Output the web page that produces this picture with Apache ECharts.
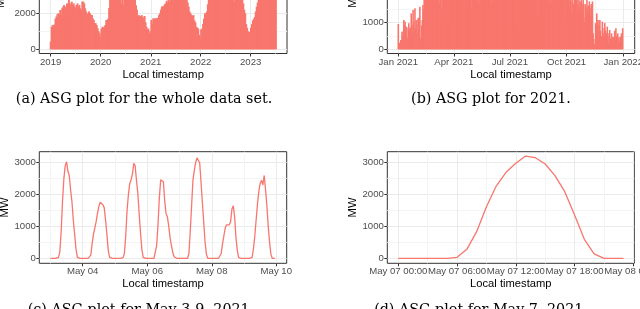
<!DOCTYPE html>
<html><head><meta charset="utf-8">
<script src="https://cdn.jsdelivr.net/npm/echarts@6/dist/echarts.min.js"></script>
<style>html,body{margin:0;padding:0;background:#fff}#c{width:640px;height:309px}</style>
</head><body><div id="c"></div>
<script>
const DAY = 864e5, HOUR = 36e5;

// (a) ASG, whole data set: weekly maxima, first week starts 2019-01-01
const aStart = '2019-01-01';
const aWeeklyMW = [
 425,1250,1350,1300,1380,1700,1820,1950,2000,1950,
 2185,1900,2280,2370,2460,2185,2370,2550,2460,2800,
 2550,2370,2650,2460,2550,2370,2280,2460,2550,2370,
 2460,2280,2185,2650,2650,2550,2280,2100,1910,2000,
 2100,2000,1910,1910,1720,1630,1450,1450,1350,1170,
 1000,890,
 700,1150,1250,1200,1260,1350,1630,1630,1700,2300,
 2850,3000,3100,2950,3150,3200,3050,3300,3250,3150,
 3350,3200,2550,3300,2450,3250,3400,3200,3300,3100,
 3250,3000,3150,2950,3050,2900,2800,
 2450,2200,1850,1900,1800,1850,1900,1800,1700,1850,
 1500,1250,1100,1150,900,1000,1630,1400,1720,1700,
 1720,1650,1750,1720,1900,2000,2200,2370,2400,2370,
 2500,
 2550,2700,2600,2800,2650,2900,
 3000,3100,3200,3050,3300,3150,3250,3400,3200,3300,3350,3150,3250,3100,3200,3000,2900,
 2600,2370,2100,2000,1900,1850,1900,1600,1500,1250,1200,1150,800,600,1100,1150,1400,1700,2000,1950,2100,2500,
 2850,3000,3100,3200,3050,3300,3250,3400,3350,3200,3500,3300,3450,3600,3400,3550,3300,3450,
 3500,3350,3400,3250,3300,3150,3200,3050,3100,2650,3000,2950,2900,3000,2850,2800,2900,2750,
 2550,2200,2000,1400,1200,1000,900,980,1200,1400,1600,1700,1800,2100,2370,2600,
 2900,3100,3000,3250,3200,3400,3350,3500,3300,3600,3450,3700,3500,3650,3550,3800,3600,3700,3750
];

// (b) ASG for 2021: daily maxima from 2021-01-01
const bStart = '2021-01-01';
const bDailyMW = [
 950,200,250,180,350,300,660,500,680,1100,
 900,1040,660,850,820,400,460,980,700,790,
 820,1350,900,600,1480,1000,724,1540,790,1100,
 950,600,1165,1150,1200,1600,412,160,900,1100,
 1665,1500,1900,2100,
 2200,2350,2100,2450,2300,2500,2250,2400,2600,2350,
 2500,2700,2450,2600,2300,2550,2750,2500,2650,2400,
 2700,2600,2800,1700,2650,2900,1550,2750,2850,2600,
 2900,2700,2950,2800,3000,2850,2700,950,2900,3050,
 2950,3100,2800,3000,2900,3150,3050,2850,3100,3000,
 3200,1700,3050,3150,2950,3100,3250,3000,3150,1800,
 3200,3050,3300,3100,3150,3250,2950,3200,3300,1250,
 3150,3250,3100,3300,3200,1600,3050,3250,3350,3150,
 3200,3300,3100,3250,3350,3150,1750,3200,3300,3100,
 3250,3350,3200,3050,3300,3150,3250,3350,3100,3200,
 3300,3150,3250,3050,3350,3200,3100,1650,3250,3300,
 3150,3200,3350,3100,3250,3300,3050,3200,1150,3250,
 3300,3150,3200,3350,3100,3250,3050,3300,3200,1700,
 3150,3250,3300,3100,1750,3200,3350,3050,3250,3150,
 3300,3200,3100,3250,3050,3300,3150,3200,3000,3250,
 800,3100,3200,3050,3250,3150,3000,3200,3100,3050,
 3150,2950,3200,3100,3000,3150,2900,3100,3050,2950,
 3100,3000,2850,3050,2950,3100,2900,3000,2850,3050,
 2950,2800,3000,1300,2900,2850,2950,2750,2900,1750,
 2850,2700,2900,2800,1800,2750,2850,2650,2800,2700,
 2600,2750,2650,1750,2700,2550,2650,2500,2700,2600,
 2450,2650,2550,2400,2600,2350,2500,2450,1700,2300,
 2450,2250,2400,2200,2350,2150,1000,2300,2100,2250,
 2000,
 1500,1900,2000,1600,2100,1800,1350,1900,2000,1700,
 1450,2000,1900,1600,1850,2000,1400,1700,1900,1550,
 1800,1300,1950,1700,1500,1850,1200,1000,1700,1600,
 1300,1850,1500,1650,1350,1800,1550,1250,1700,1450,
 1800,600,400,170,200,985,800,1350,900,1100,
 660,900,1100,700,350,500,1040,600,475,800,
 985,700,350,600,850,500,225,600,725,400,
 350,600,290,450,475,300,700,400,790,500,
 350,600,300,450,290,475,350,600,500,790
];

// (c) ASG hourly, May 3-9, 2021
const cStart = '2021-05-03';
const cMay03 = [0,0,0,0,0,0,30,200,850,1800,2500,2900,3030,2730,2600,2150,1780,1200,750,300,30,0,0,0];
const cMay04 = [0,0,0,0,0,0,100,450,750,950,1150,1410,1620,1760,1790,1680,1590,1200,750,250,30,0,0,0];
const cMay05 = [0,0,0,0,0,0,20,150,700,1500,2000,2350,2460,2650,2980,2900,2450,2040,1400,800,280,30,0,0];
const cMay06 = [0,0,0,0,0,0,50,400,1050,1900,2460,2510,2400,1800,1400,1300,1000,640,400,180,50,0,0,0];
const cMay07 = [0,0,0,0,0,0,0,150,850,1650,2450,2750,3000,3150,3200,3000,2400,1750,1150,520,130,0,0,0];
const cMay08 = [0,0,0,0,0,0,0,150,450,700,950,1050,1080,1050,1150,1550,1650,1300,650,250,20,0,0,0];
const cMay09 = [0,0,0,0,0,0,30,300,700,1200,1700,2100,2350,2450,2300,2600,2150,1650,1000,500,120,0,0,0];

// (d) ASG hourly, May 7, 2021
const dStart = '2021-05-07';
const dMay07 = [0,0,0,0,0,0,31,282,836,1620,2268,2697,2980,3209,3157,2958,2592,2090,1359,596,136,0,0,0];

// tick labels
const aTickDates = ['2019-01-01','2020-01-01','2021-01-01','2022-01-01','2023-01-01'];
const aTickLabels = ['2019','2020','2021','2022','2023'];
const bTickDates = ['2021-01-01','2021-04-01','2021-07-01','2021-10-01','2022-01-01'];
const bTickLabels = ['Jan 2021','Apr 2021','Jul 2021','Oct 2021','Jan 2022'];
const cTickDates = ['2021-05-04','2021-05-06','2021-05-08','2021-05-10'];
const cTickLabels = ['May 04','May 06','May 08','May 10'];
const dTickDates = ['2021-05-07T00:00','2021-05-07T06:00','2021-05-07T12:00','2021-05-07T18:00','2021-05-08T00:00'];
const dTickLabels = ['May 07 00:00','May 07 06:00','May 07 12:00','May 07 18:00','May 08 00:00'];
const aYTicks = [0,2000,4000];
const bYTicks = [0,1000,2000,3000,4000];
const cdYTicks = [0,1000,2000,3000];

const xTitle = 'Local timestamp';
const yTitle = 'MW';
const captions = ['(a) ASG plot for the whole data set.','(b) ASG plot for 2021.','(c) ASG plot for May 3-9, 2021.','(d) ASG plot for May 7, 2021.'];

// ---------- build ----------
const ms = s => Date.parse(s.length > 10 ? s + ':00Z' : s + 'T00:00:00Z');
const COLOR = '#F8766D';
const FONT = '"Liberation Sans", Arial, Helvetica, sans-serif';

function minors(major, lo, hi) {
  const out = [];
  const step0 = major[1] - major[0], stepN = major[major.length-1] - major[major.length-2];
  out.push(major[0] - step0/2);
  for (let i = 1; i < major.length; i++) out.push((major[i-1] + major[i]) / 2);
  out.push(major[major.length-1] + stepN/2);
  return out.filter(v => v > lo && v < hi);
}

const aData = aWeeklyMW.map((v,i) => [ms(aStart) + i*7*DAY, v]);
const bData = bDailyMW.map((v,i) => [ms(bStart) + i*DAY, v]);
const cData = [cMay03,cMay04,cMay05,cMay06,cMay07,cMay08,cMay09].flat().map((v,i) => [ms(cStart) + i*HOUR, v]);
const dData = dMay07.map((v,i) => [ms(dStart) + i*HOUR, v]);

const panels = [
  {grid:{left:39.3, top:-58, width:247.7, height:111.5},
   x:[ms('2019-01-01') - 83.3*DAY, ms('2023-01-01') + 265.2*DAY], xt:aTickDates.map(ms), xl:aTickLabels,
   y:[-233, 5961], yt:aYTicks, yNameGap:33, data:aData, kind:'bar', bw:2},
  {grid:{left:387.3, top:-58, width:247.4, height:111.5},
   x:[ms('2021-01-01') - 17.85*DAY, ms('2022-01-01') + 18.5*DAY], xt:bTickDates.map(ms), xl:bTickLabels,
   y:[-158, 4034], yt:bYTicks, yNameGap:29, data:bData, kind:'bar', bw:1.6},
  {grid:{left:39.3, top:151.7, width:247.4, height:111.6},
   x:[ms('2021-05-04') - 1.345*DAY, ms('2021-05-10') + 0.3223*DAY], xt:cTickDates.map(ms), xl:cTickLabels,
   y:[-157, 3345], yt:cdYTicks, yNameGap:29, data:cData, kind:'line'},
  {grid:{left:387.3, top:151.7, width:247.0, height:111.6},
   x:[ms('2021-05-07') - 1.123*HOUR, ms('2021-05-08') + 0.1*HOUR], xt:dTickDates.map(ms), xl:dTickLabels,
   y:[-157, 3345], yt:cdYTicks, yNameGap:29, data:dData, kind:'line'}
];

const option = {animation:false, backgroundColor:'#ffffff',
  grid:[], xAxis:[], yAxis:[], series:[], graphic:[]};

panels.forEach((p, i) => {
  option.grid.push(Object.assign({show:true, borderColor:'#333333', borderWidth:1,
    backgroundColor:'transparent', containLabel:false, outerBoundsMode:'none'}, p.grid));
  const xmin = minors(p.xt, p.x[0], p.x[1]);
  const ymin = minors(p.yt, p.y[0], p.y[1]);
  option.xAxis.push({type:'value', gridIndex:i, min:p.x[0], max:p.x[1], position:'bottom',
    name:xTitle, nameLocation:'middle', nameGap:15.5,
    nameTextStyle:{fontFamily:FONT, fontSize:11.2, color:'#000'},
    axisLine:{show:false, onZero:false},
    axisTick:{show:true, length:3, customValues:p.xt, lineStyle:{color:'#333333', width:1}},
    axisLabel:{show:true, customValues:p.xt, margin:3.5, hideOverlap:false, fontFamily:FONT, fontSize:9.6, color:'#4d4d4d',
      formatter:v => { const k = p.xt.findIndex(t => Math.abs(t - v) < 1000); return k >= 0 ? p.xl[k] : ''; }},
    splitLine:{show:true, lineStyle:{color:'#ebebeb', width:1}}, minorTick:{show:false}, minorSplitLine:{show:false}});
  option.xAxis.push({type:'value', gridIndex:i, min:p.x[0], max:p.x[1], position:'bottom',
    axisLine:{show:false, onZero:false}, axisTick:{show:false, customValues:xmin},
    axisLabel:{show:false, customValues:xmin},
    splitLine:{show:true, lineStyle:{color:'#f4f4f4', width:1}}});
  option.yAxis.push({type:'value', gridIndex:i, min:p.y[0], max:p.y[1], position:'left',
    name:yTitle, nameLocation:'middle', nameGap:p.yNameGap, nameRotate:90,
    nameTextStyle:{fontFamily:FONT, fontSize:11.2, color:'#000'},
    axisLine:{show:false, onZero:false},
    axisTick:{show:true, length:3, customValues:p.yt, lineStyle:{color:'#333333', width:1}},
    axisLabel:{show:true, customValues:p.yt, margin:3.5, fontFamily:FONT, fontSize:9.6, color:'#4d4d4d', formatter:v => String(v)},
    splitLine:{show:true, lineStyle:{color:'#ebebeb', width:1}}});
  option.yAxis.push({type:'value', gridIndex:i, min:p.y[0], max:p.y[1], position:'left',
    axisLine:{show:false, onZero:false}, axisTick:{show:false, customValues:ymin},
    axisLabel:{show:false, customValues:ymin},
    splitLine:{show:true, lineStyle:{color:'#f4f4f4', width:1}}});
  const s = {xAxisIndex:2*i, yAxisIndex:2*i, data:p.data, z:3};
  if (p.kind === 'bar') {
    Object.assign(s, {type:'bar', barWidth:p.bw, barGap:'-100%', itemStyle:{color:COLOR}});
  } else {
    Object.assign(s, {type:'line', showSymbol:false, symbol:'none', lineStyle:{color:COLOR, width:1.3}, itemStyle:{color:COLOR}});
  }
  option.series.push(s);
});

const capPos = [[144, 99], [491, 99], [141, 310.5], [481, 310.5]];
captions.forEach((t, i) => {
  option.graphic.push({type:'text', x:capPos[i][0], y:capPos[i][1], silent:true,
    style:{text:t, font:'14.3px "DejaVu Serif", "Liberation Serif", serif', fill:'#000',
      align:'center', verticalAlign:'middle', textAlign:'center', textVerticalAlign:'middle'}});
});

const chart = echarts.init(document.getElementById('c'), null, {renderer:'canvas', width:640, height:309});
chart.setOption(option);
</script></body></html>
